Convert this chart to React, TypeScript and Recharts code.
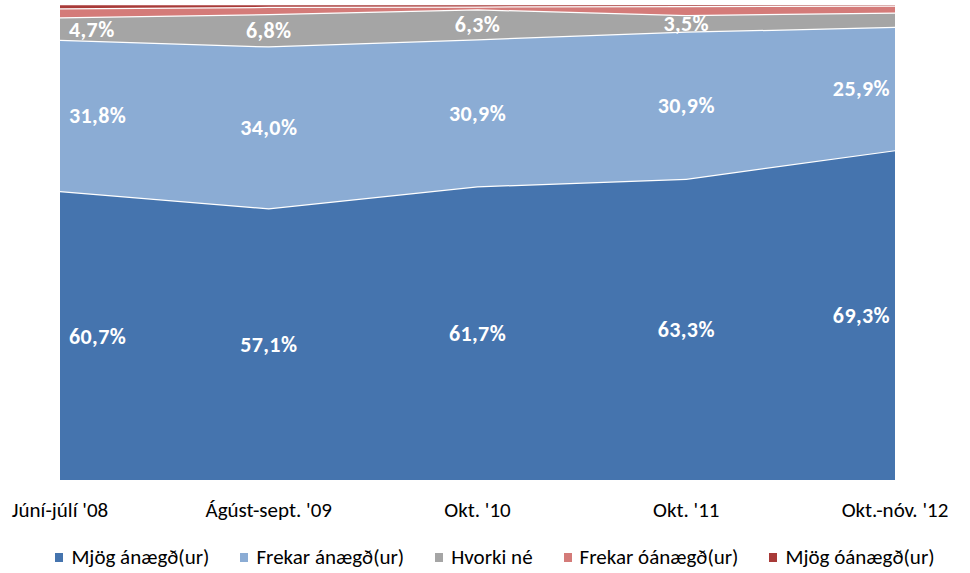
import React from "react";
import { AreaChart, Area, XAxis, YAxis, Line, LabelList } from "recharts";

const categories = ["Júní-júlí '08", "Ágúst-sept. '09", "Okt. '10", "Okt. '11", "Okt.-nóv. '12"];
const mjogAnaegd = [60.7, 57.1, 61.7, 63.3, 69.3];
const frekarAnaegd = [31.8, 34.0, 30.9, 30.9, 25.9];
const hvorkiNe = [4.7, 6.8, 6.3, 3.5, 3.0];
const frekarOanaegd = [1.9, 1.5, 0.6, 1.9, 1.5];
const mjogOanaegd = [0.9, 0.6, 0.5, 0.4, 0.3];
const showHvorkiLabel = [true, true, true, true, false];

const series = [
  { key: "a", name: "Mjög ánægð(ur)", color: "#4574AE" },
  { key: "b", name: "Frekar ánægð(ur)", color: "#8BACD4" },
  { key: "c", name: "Hvorki né", color: "#A5A5A5" },
  { key: "d", name: "Frekar óánægð(ur)", color: "#D47B79" },
  { key: "e", name: "Mjög óánægð(ur)", color: "#A83A38" },
];

const data = categories.map((name, i) => ({
  name,
  a: mjogAnaegd[i],
  b: frekarAnaegd[i],
  c: hvorkiNe[i],
  d: frekarOanaegd[i],
  e: mjogOanaegd[i],
  midA: mjogAnaegd[i] / 2,
  midB: mjogAnaegd[i] + frekarAnaegd[i] / 2,
  midC: mjogAnaegd[i] + frekarAnaegd[i] + hvorkiNe[i] / 2,
}));

const FONT = "Carlito, 'Liberation Sans Narrow', 'DejaVu Sans Condensed', sans-serif";
const fmt = (v: number) => v.toFixed(1).replace(".", ",") + "%";

const makeLabel = (vals: number[], show?: boolean[]) => (props: any) => {
  const { x, y, index } = props;
  if (show && !show[index]) return null;
  const last = vals.length - 1;
  let anchor: "start" | "middle" | "end" = "middle";
  let dx = 0;
  if (index === 0) { anchor = "start"; dx = 9; }
  else if (index === last) { anchor = "end"; dx = -5; }
  return (
    <text x={x + dx} y={y} dy={8} textAnchor={anchor} fill="#ffffff" fontFamily={FONT} fontWeight={700} fontSize={22} letterSpacing={0.4}>
      {fmt(vals[index])}
    </text>
  );
};

const Tick = (props: any) => {
  const { x, y, payload } = props;
  return (
    <text x={x} y={y} dy={29} textAnchor="middle" fill="#000" fontFamily={FONT} fontSize={21}>
      {payload.value}
    </text>
  );
};

export default function App() {
  return (
    <div style={{ position: "absolute", left: 0, top: 0, width: 970, height: 573, background: "#fff" }}>
      <AreaChart width={970} height={573} data={data} margin={{ top: 4, right: 75, bottom: 53, left: 60 }}>
        <XAxis dataKey="name" axisLine={false} tickLine={false} tick={<Tick />} interval={0} height={40} />
        <YAxis hide domain={[0, 100]} />
        {series.map((s) => (
          <Area
            key={s.key}
            type="linear"
            dataKey={s.key}
            name={s.name}
            stackId="1"
            fill={s.color}
            fillOpacity={1}
            stroke="#ffffff"
            strokeWidth={2.5}
            isAnimationActive={false}
          />
        ))}
        <Line dataKey="midA" stroke="none" dot={false} legendType="none" isAnimationActive={false}>
          <LabelList dataKey="midA" content={makeLabel(mjogAnaegd)} />
        </Line>
        <Line dataKey="midB" stroke="none" dot={false} legendType="none" isAnimationActive={false}>
          <LabelList dataKey="midB" content={makeLabel(frekarAnaegd)} />
        </Line>
        <Line dataKey="midC" stroke="none" dot={false} legendType="none" isAnimationActive={false}>
          <LabelList dataKey="midC" content={makeLabel(hvorkiNe, showHvorkiLabel)} />
        </Line>
      </AreaChart>
      <div
        style={{
          position: "absolute",
          left: 0,
          top: 543,
          width: 970,
          paddingLeft: 20,
          boxSizing: "border-box",
          display: "flex",
          justifyContent: "center",
          fontFamily: FONT,
          fontSize: 21,
          lineHeight: "28px",
          color: "#000",
        }}
      >
        {series.map((s, i) => (
          <div key={s.key} style={{ display: "flex", alignItems: "center", marginRight: i === series.length - 1 ? 0 : 31 }}>
            <span style={{ display: "inline-block", width: 8, height: 9, background: s.color, marginRight: 8 }} />
            <span>{s.name}</span>
          </div>
        ))}
      </div>
    </div>
  );
}
